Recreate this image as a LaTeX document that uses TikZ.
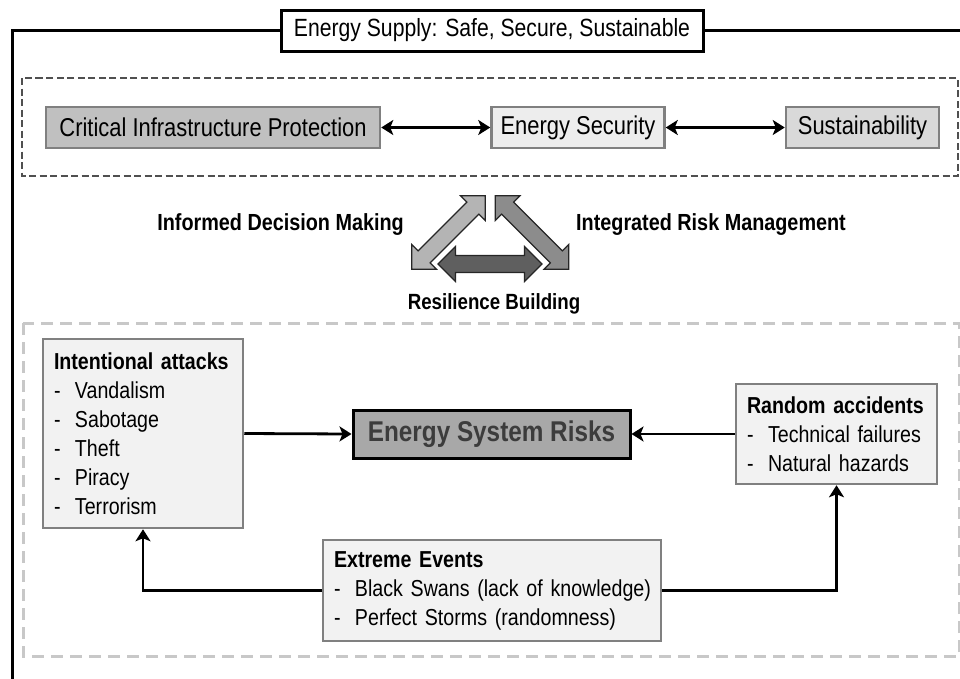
\documentclass[tikz,border=0pt]{standalone}
\usepackage{fontspec}
\setmainfont{Liberation Sans}[FakeStretch=0.85]
\usetikzlibrary{arrows.meta}
\definecolor{boxline}{HTML}{808080}
\definecolor{cipfill}{HTML}{C0C0C0}
\definecolor{esfill}{HTML}{EDEDED}
\definecolor{susfill}{HTML}{D9D9D9}
\definecolor{riskfill}{HTML}{A8A8A8}
\definecolor{risktext}{HTML}{3C3C3C}
\definecolor{lowfill}{HTML}{F2F2F2}
\definecolor{dashdark}{HTML}{505050}
\definecolor{dashlight}{HTML}{C8C8C8}
\definecolor{arrowA}{HTML}{B4B4B4}
\definecolor{arrowB}{HTML}{8C8C8C}
\definecolor{arrowC}{HTML}{5F5F5F}
% fat double arrow: #1 centre, #2 angle, #3 fill colour
\newcommand{\fatarrow}[3]{%
  \begin{scope}[shift={#1},rotate=#2]
    \filldraw[fill=#3,draw=black!85,line width=1.2pt,line join=miter]
      (-52,0) -- (-34.5,17.5) -- (-34.5,8.5) -- (34.5,8.5) -- (34.5,17.5)
      -- (52,0) -- (34.5,-17.5) -- (34.5,-8.5) -- (-34.5,-8.5)
      -- (-34.5,-17.5) -- cycle;
  \end{scope}}
% list heading and list entry (dash, then the item), never broken
\newcommand{\heading}[1]{\mbox{\bfseries #1}}
\newcommand{\entry}[1]{\mbox{\makebox[21pt][l]{-}#1}}
\begin{document}
\begin{tikzpicture}[x=1pt,y=-1pt,
  topfont/.style={font=\fontsize{25.8}{30}\selectfont},
  listfont/.style={font=\fontsize{23.1}{29}\selectfont},
  topbox/.style={draw=boxline,line width=2.5pt,minimum height=41pt,inner sep=0pt,topfont},
  listbox/.style={draw=boxline,fill=lowfill,line width=2.5pt,inner xsep=11pt,inner ysep=0pt,
    align=left,listfont},
  link/.style={line width=2.8pt,-{Stealth[length=12pt,width=15pt,inset=3pt]}},
  duallink/.style={line width=2.8pt,{Stealth[length=12pt,width=15pt,inset=3pt]}-{Stealth[length=12pt,width=15pt,inset=3pt]}},
  label/.style={font=\fontsize{23.3}{28}\selectfont\bfseries,inner sep=0pt}]
\useasboundingbox (0,0) rectangle (960,678);
\clip (0,0) rectangle (960,678);
\fill[white] (0,0) rectangle (960,678);

% outer frame
\draw[line width=3pt] (12,700) -- (12,30) -- (980,30);
\node[draw,fill=white,line width=3pt,minimum width=422pt,minimum height=41pt,inner sep=0pt,
  font=\fontsize{24.9}{30}\selectfont]
  (title) at (492,30.5) {Energy Supply: Safe, Secure, Sustainable};

% goals
\draw[dashdark,line width=2.5pt,dash pattern=on 7pt off 3.5pt] (22,78) rectangle (958,176);
\node[topbox,fill=cipfill,minimum width=334pt] (cip) at (213,127.5) {Critical Infrastructure Protection};
\node[topbox,fill=esfill,minimum width=173pt] (es) at (578,127.5) {Energy Security};
\node[topbox,fill=susfill,minimum width=153pt] (sus) at (862.5,127.5) {Sustainability};
\draw[duallink] (cip.east) -- (es.west);
\draw[duallink] (es.east) -- (sus.west);

% approaches
\fatarrow{(448.5,232.5)}{45}{arrowA}
\fatarrow{(532,232.5)}{-45}{arrowB}
\fatarrow{(490,264)}{0}{arrowC}
\node[label,anchor=base east] (idm) at (404,230) {Informed Decision Making};
\node[label,anchor=base west] (irm) at (576,230) {Integrated Risk Management};
\node[label,anchor=base,font=\fontsize{22}{26}\selectfont\bfseries] (rb) at (494,309) {Resilience Building};

% risks
\draw[dashlight,line width=3pt,dash pattern=on 12pt off 7pt] (23,323) rectangle (959,656);
\node[draw=black,fill=riskfill,line width=3pt,minimum width=277pt,minimum height=48pt,inner sep=0pt,
  text=risktext,font=\fontsize{28.6}{33}\selectfont\bfseries] (esr) at (491.5,434) {Energy System Risks};
\node[listbox,text width=178pt,minimum height=189pt] (ia) at (143,433.5)
  {\heading{Intentional attacks}\\
   \entry{Vandalism}\\
   \entry{Sabotage}\\
   \entry{Theft}\\
   \entry{Piracy}\\
   \entry{Terrorism}};
\node[listbox,text width=179pt,minimum height=100pt] (ra) at (836.5,434)
  {\heading{Random accidents}\\
   \entry{Technical failures}\\
   \entry{Natural hazards}};
\node[listbox,text width=316pt,minimum height=101pt] (ee) at (492,590.5)
  {\heading{Extreme Events}\\
   \entry{Black Swans (lack of knowledge)}\\
   \entry{Perfect Storms (randomness)}};
\draw[link] (ia.east) -- (esr.west);
\draw[link] (ra.west) -- (esr.east);
\draw[link] (ee.west) -| (ia.south);
\draw[link] (ee.east) -| (ra.south);
\end{tikzpicture}
\end{document}
